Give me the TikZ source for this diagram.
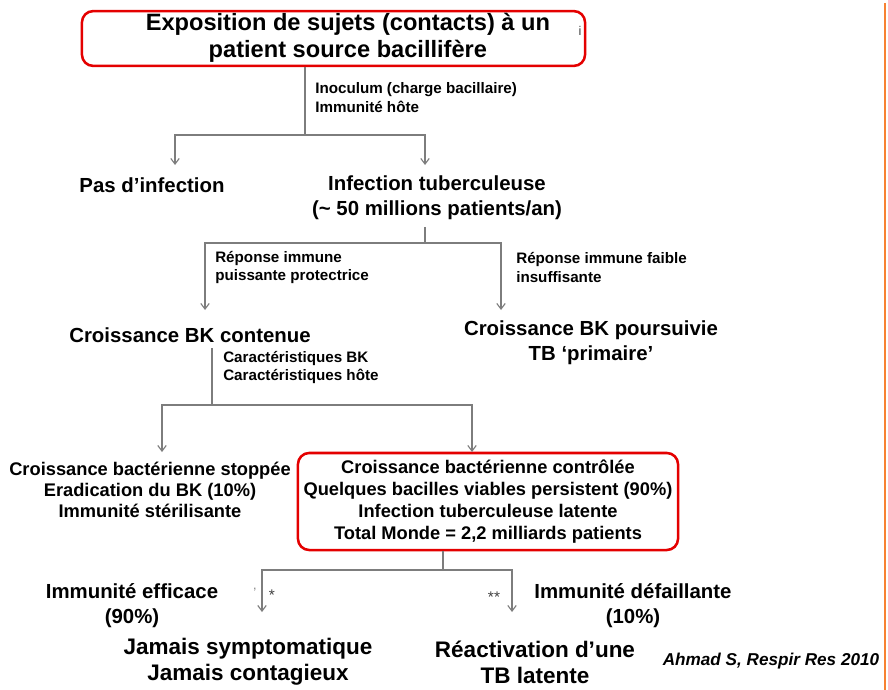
\documentclass[tikz,border=0pt]{standalone}
\usepackage{fontspec}
\setmainfont{Liberation Sans}
\usetikzlibrary{arrows.meta, positioning}
\definecolor{boxred}{RGB}{228,0,0}
\definecolor{linegray}{RGB}{125,125,125}
\definecolor{slideorange}{RGB}{247,130,50}

\begin{document}
\begin{tikzpicture}[
    x=0.025cm, y=-0.025cm,
    every node/.style={inner sep=0pt, align=center},
    big/.style={font=\bfseries\fontsize{16.8}{19.5}\selectfont},
    mid/.style={font=\bfseries\fontsize{14.5}{17.8}\selectfont},
    low/.style={font=\bfseries\fontsize{16}{18.5}\selectfont},
    tight/.style={font=\bfseries\fontsize{13}{15.2}\selectfont},
    small/.style={font=\bfseries\fontsize{10.8}{13.5}\selectfont, align=left, anchor=west},
    redbox/.style={draw=boxred, line width=1.8pt, rounded corners=8pt},
    link/.style={draw=linegray, line width=0.8pt},
    arrow/.style={link, -{Straight Barb[length=4pt,width=6pt]}}
    ]
    \useasboundingbox (0,0) rectangle (888,690);

    % Nodes
    \node (title)    [big, redbox, minimum width=12.575cm, minimum height=1.325cm] at (333.5,38.5)
                     {\hspace*{0.72cm}\begin{tabular}{@{}c@{}}Exposition de sujets (contacts) à un\\patient source bacillifère\end{tabular}};
    \node (dot)      [font=\fontsize{9}{10}\selectfont, text=darkgray] at (580,31) {i};
    \node (inoc)     [small] at (315,97.5) {Inoculum (charge bacillaire)\\Immunité hôte};

    \node (noinf)    [mid] at (152,185) {Pas d’infection};
    \node (inftb)    [mid] at (437,197.5) {Infection tuberculeuse\\(\textasciitilde{} 50 millions patients/an)};

    \node (rep1)     [small] at (215,267.5) {Réponse immune\\puissante protectrice};
    \node (rep2)     [small] at (516,267.5) {Réponse immune faible\\insuffisante};

    \node (contenue) [mid] at (190,335) {Croissance BK contenue};
    \node (suivie)   [mid] at (591,342.5) {Croissance BK poursuivie\\TB ‘primaire’};
    \node (carac)    [small] at (223,367.5) {Caractéristiques BK\\Caractéristiques hôte};

    \node (stoppee)  [tight] at (150,490) {Croissance bactérienne stoppée\\Eradication du BK (10\%)\\Immunité stérilisante};
    \node (latente)  [tight, redbox, minimum width=9.5cm, minimum height=2.425cm,
                      font=\bfseries\fontsize{13}{15.8}\selectfont] at (488,501.5)
                     {Croissance bactérienne contrôlée\\Quelques bacilles viables persistent (90\%)\\Infection tuberculeuse latente\\Total Monde = 2,2 milliards patients};

    \node (efficace) [mid] at (132,605.5) {Immunité efficace\\(90\%)};
    \node (defaill)  [mid] at (633,605.5) {Immunité défaillante\\(10\%)};
    \node (comma)    [font=\fontsize{9}{10}\selectfont, text=gray] at (255,590) {,};
    \node (star1)    [font=\fontsize{11}{12}\selectfont, text=darkgray] at (272,595) {*};
    \node (star2)    [font=\fontsize{11}{12}\selectfont, text=darkgray] at (494,597) {**};

    \node (jamais)   [low] at (248,662) {Jamais symptomatique\\Jamais contagieux};
    \node (reactiv)  [low] at (535,662) {Réactivation d’une\\TB latente};
    \node (ref)      [font=\bfseries\itshape\fontsize{12.2}{14}\selectfont] at (771,661) {Ahmad S, Respir Res 2010};

    % Branch points and arrow ends
    \coordinate (j1) at (305,135);
    \coordinate (e1) at (175,165);
    \coordinate (e2) at (425,165);
    \coordinate (j2) at (425,243);
    \coordinate (e3) at (205,310);
    \coordinate (e4) at (501,310);
    \coordinate (j3) at (212,405);
    \coordinate (e5) at (162,452);
    \coordinate (e6) at (472,452);
    \coordinate (j4) at (443,570);
    \coordinate (e7) at (262,612);
    \coordinate (e8) at (512,612);

    % Arrows
    \draw[link] (title.south -| j1) -- (j1);
    \draw[arrow] (j1) -| (e1);
    \draw[arrow] (j1) -| (e2);

    \draw[link] ([yshift=-5pt]inftb.south -| j2) -- (j2);
    \draw[arrow] (j2) -| (e3);
    \draw[arrow] (j2) -| (e4);

    \draw[link] ([yshift=-4pt]contenue.south -| j3) -- (j3);
    \draw[arrow] (j3) -| (e5);
    \draw[arrow] (j3) -| (e6);

    \draw[link] (latente.south -| j4) -- (j4);
    \draw[arrow] (j4) -| (e7);
    \draw[arrow] (j4) -| (e8);

    % slide border
    \draw[slideorange, line width=1.4pt] (885,3) -- (885,690);
\end{tikzpicture}
\end{document}
